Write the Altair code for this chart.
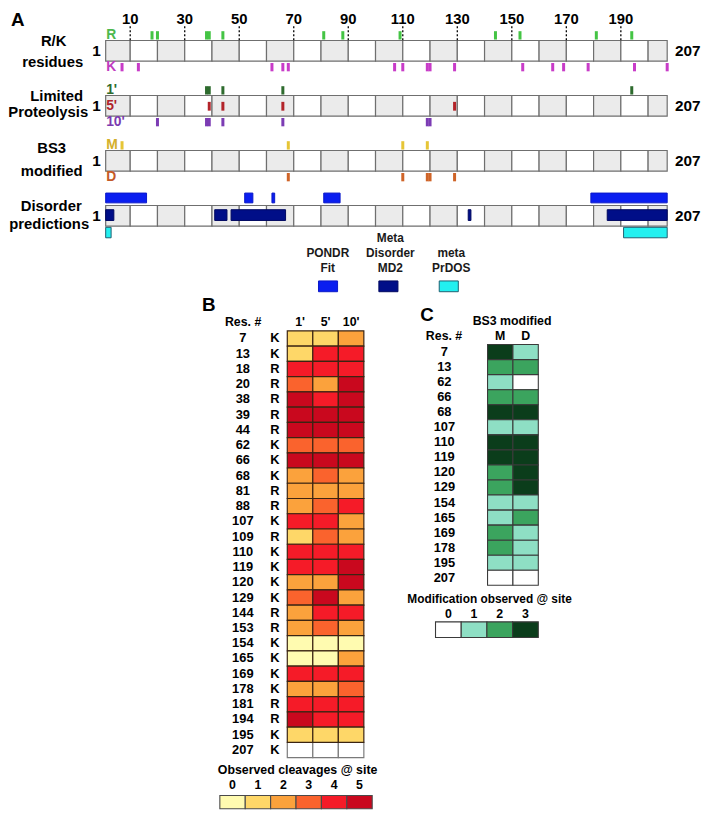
import altair as alt
import pandas as pd

# ---------------- data ----------------
SEQ_START, SEQ_END = 1, 207
TOP_TICKS = [10, 30, 50, 70, 90, 110, 130, 150, 170, 190]
CELL_EDGES = [1, 10, 20, 30, 40, 50, 60, 70, 80, 90, 100, 110, 120, 130, 140,
              150, 160, 170, 180, 190, 200, 207]
R_SITES = [18, 20, 38, 39, 44, 81, 88, 109, 144, 153, 181, 194]
K_SITES = [7, 13, 62, 66, 68, 107, 110, 119, 120, 129, 154, 165, 169, 178, 195, 207]

PONDR_FIT = [(1, 16), (52, 55), (62, 63), (81, 87), (179, 207)]
META_MD2 = [(1, 4), (41, 45.5), (47, 67), (134, 135), (185, 207)]
META_PRDOS = [(1, 3), (191, 207)]

TIMES = ["1'", "5'", "10'"]
RES_B = [7, 13, 18, 20, 38, 39, 44, 62, 66, 68, 81, 88, 107, 109, 110, 119, 120,
         129, 144, 153, 154, 165, 169, 178, 181, 194, 195, 207]
AA_B = ["K", "K", "R", "R", "R", "R", "R", "K", "K", "K", "R", "R", "K", "R", "K",
        "K", "K", "K", "R", "R", "K", "K", "K", "K", "R", "R", "K", "K"]
CLV_1 = [1, 1, 4, 3, 5, 5, 5, 3, 5, 2, 2, 2, 4, 1, 4, 4, 2, 3, 2, 2, 0, 0, 4, 2, 4, 5, 1, None]
CLV_5 = [1, 4, 4, 2, 4, 5, 5, 3, 5, 3, 2, 3, 4, 3, 4, 4, 2, 5, 4, 3, 0, 0, 4, 2, 4, 4, 1, None]
CLV_10 = [2, 4, 4, 5, 5, 5, 5, 3, 5, 2, 2, 4, 2, 2, 4, 5, 5, 2, 4, 2, 0, 2, 4, 3, 4, 4, 1, None]

BS3_COLS = ["M", "D"]
RES_C = [7, 13, 62, 66, 68, 107, 110, 119, 120, 129, 154, 165, 169, 178, 195, 207]
BS3_M = [3, 2, 1, 2, 3, 1, 3, 3, 2, 2, 1, 1, 2, 2, 1, 0]
BS3_D = [1, 2, 0, 2, 3, 1, 3, 3, 3, 3, 1, 2, 1, 1, 1, 0]

CLV_COLORS = ["#FFFBB0", "#FED768", "#FBA23C", "#FA632D", "#F51B28", "#C9081E"]
BS3_COLORS = ["#FFFFFF", "#8EDFC4", "#3BA45E", "#0B3D1B"]

# ---------------- layout helpers ----------------
FONT = "Liberation Sans"


def X(p):
    return round((p - 1.5) * 0.993, 2)


def Y(p):
    return round(p * 0.99 - 1.5, 2)


def label(text, x, y, size=12.5, color="#000000", align="center",
          baseline="alphabetic", weight="bold"):
    return alt.Chart(pd.DataFrame({"s": [text]})).mark_text(
        font=FONT, fontSize=size, fontWeight=weight, color=color,
        align=align, baseline=baseline
    ).encode(text="s:N", x=alt.value(X(x)), y=alt.value(Y(y)))


layers = []

# ================= Panel A =================
ROW = 56.2
BAR_H = 21.0
xA = alt.Scale(domain=[SEQ_START, SEQ_END], range=[X(101), X(673)], nice=False, zero=False)
yA = alt.Scale(domain=[0, 4], range=[Y(30), Y(30 + 4 * ROW)], nice=False, zero=False)

# segmented bars
cell_rows = []
for t in range(4):
    for i in range(len(CELL_EDGES) - 1):
        cell_rows.append(dict(x=CELL_EDGES[i], x2=CELL_EDGES[i + 1], y=t,
                              y2=t + BAR_H / ROW, shade="g" if i % 2 == 0 else "w"))
layers.append(alt.Chart(pd.DataFrame(cell_rows)).mark_rect(stroke="#6f6f6f", strokeWidth=1.2).encode(
    x=alt.X("x:Q", scale=xA, axis=None), x2="x2:Q",
    y=alt.Y("y:Q", scale=yA, axis=None), y2="y2:Q",
    color=alt.Color("shade:N", scale=alt.Scale(domain=["g", "w"], range=["#EBEBEB", "#FFFFFF"]), legend=None),
))

# derived site lists
lp1 = [r for r, v in zip(RES_B, CLV_1) if v == 5]
lp5 = [r for r, v in zip(RES_B, CLV_5) if v == 5]
lp10 = [r for r, v in zip(RES_B, CLV_10) if v == 5]
bm = [r for r, v in zip(RES_C, BS3_M) if v == 3]
bd = [r for r, v in zip(RES_C, BS3_D) if v == 3]

ABOVE, INSIDE, BELOW = (-9.5, -1.0), (6.5, 15.5), (23.0, 31.5)
LANES = [
    # name, track, lane, colour, label colour, sites
    ("R", 0, ABOVE, "#44C444", "#4DB84D", R_SITES),
    ("K", 0, BELOW, "#C83CC8", "#C03CC0", K_SITES),
    ("1'", 1, ABOVE, "#2E6B2E", "#2E6B2E", lp1),
    ("5'", 1, INSIDE, "#B3242A", "#B0232A", lp5),
    ("10'", 1, BELOW, "#7C3CB4", "#7B3BB0", lp10),
    ("M", 2, ABOVE, "#E6C536", "#D4B02A", bm),
    ("D", 2, BELOW, "#CF6428", "#C45A28", bd),
]
tick_rows, lab_rows = [], []
for name, t, (a, b), col, lcol, sites in LANES:
    for r in sites:
        tick_rows.append(dict(lane=name, x=r - 0.55, x2=r + 0.55, y=t + a / ROW, y2=t + b / ROW))
    off = {ABOVE: -5.4, INSIDE: 11.0, BELOW: 27.6}[(a, b)]
    lab_rows.append(dict(lane=name, y=t + off / ROW))

lane_names = [l[0] for l in LANES]
layers.append(alt.Chart(pd.DataFrame(tick_rows)).mark_rect().encode(
    x=alt.X("x:Q", scale=xA, axis=None), x2="x2:Q",
    y=alt.Y("y:Q", scale=yA, axis=None), y2="y2:Q",
    color=alt.Color("lane:N", scale=alt.Scale(domain=lane_names, range=[l[3] for l in LANES]), legend=None),
))
layers.append(alt.Chart(pd.DataFrame(lab_rows)).mark_text(
    font=FONT, fontSize=14, fontWeight="bold", align="left", baseline="middle"
).encode(
    text="lane:N", x=alt.value(X(101.5)),
    y=alt.Y("y:Q", scale=yA, axis=None),
    color=alt.Color("lane:N", scale=alt.Scale(domain=lane_names, range=[l[4] for l in LANES]), legend=None),
))

# disorder predictions
DIS = [("PONDR Fit", (-12.7, -2.7), PONDR_FIT), ("MD2", (4.3, 15.3), META_MD2),
       ("PrDOS", (22.3, 33.0), META_PRDOS)]
DIS_FILL = ["#0A1EF0", "#000E88", "#22F0F0"]
DIS_STROKE = ["#0A18C8", "#000860", "#1F5F70"]
dis_rows = []
for name, (a, b), segs in DIS:
    for s, e in segs:
        dis_rows.append(dict(p=name, x=s, x2=e, y=3 + a / ROW, y2=3 + b / ROW))
dis_names = [d[0] for d in DIS]
layers.append(alt.Chart(pd.DataFrame(dis_rows)).mark_rect(strokeWidth=1).encode(
    x=alt.X("x:Q", scale=xA, axis=None), x2="x2:Q",
    y=alt.Y("y:Q", scale=yA, axis=None), y2="y2:Q",
    color=alt.Color("p:N", scale=alt.Scale(domain=dis_names, range=DIS_FILL), legend=None),
    stroke=alt.Stroke("p:N", scale=alt.Scale(domain=dis_names, range=DIS_STROKE), legend=None),
))

# top ruler
rule_df = pd.DataFrame({"x": TOP_TICKS, "y": [-14.5 / ROW] * len(TOP_TICKS), "y2": [0.0] * len(TOP_TICKS)})
layers.append(alt.Chart(rule_df).mark_rule(color="#000000", strokeWidth=1.3, strokeDash=[2, 2]).encode(
    x=alt.X("x:Q", scale=xA, axis=None),
    y=alt.Y("y:Q", scale=yA, axis=None), y2="y2:Q",
))
layers.append(alt.Chart(pd.DataFrame({"x": TOP_TICKS})).mark_text(
    font=FONT, fontSize=15, fontWeight="bold", baseline="alphabetic"
).encode(x=alt.X("x:Q", scale=xA, axis=None), y=alt.value(Y(13.2)), text="x:N"))

# 1 / 207 labels
ends_df = pd.DataFrame({"y": [t + BAR_H / 2 / ROW for t in range(4)]})
layers.append(alt.Chart(ends_df).mark_text(font=FONT, fontSize=15.5, fontWeight="bold", baseline="middle",
                                           text=str(SEQ_START)).encode(
    x=alt.value(X(91.7)), y=alt.Y("y:Q", scale=yA, axis=None)))
layers.append(alt.Chart(ends_df).mark_text(font=FONT, fontSize=15.5, fontWeight="bold", baseline="middle",
                                           text=str(SEQ_END)).encode(
    x=alt.value(X(694)), y=alt.Y("y:Q", scale=yA, axis=None)))

# track titles
for txt, x, y in [("R/K", 48, 35.3), ("residues", 47, 56.7), ("Limited", 51, 92.3),
                  ("Proteolysis", 42.5, 108.3), ("BS3", 46, 145.3), ("modified", 46, 168.3),
                  ("Disorder", 45.5, 204.5), ("predictions", 43.5, 222.5)]:
    layers.append(label(txt, x, y, size=15))
layers.append(label("A", 4.5, 15.2, size=19, align="left"))

# disorder legend
for txt, x, y in [("PONDR", 327.3, 251.5), ("Fit", 327.3, 267), ("Meta", 391, 236),
                  ("Disorder", 391, 251.5), ("MD2", 391, 267), ("meta", 453, 251.5),
                  ("PrDOS", 453, 267)]:
    layers.append(label(txt, x, y, size=12, color="#1a1a1a"))
leg_df = pd.DataFrame({"p": dis_names, "i": [0, 1, 2], "k": ["s"] * 3})
leg_df["x"] = leg_df["i"] - 0.158
leg_df["x2"] = leg_df["i"] + 0.158
layers.append(alt.Chart(leg_df).mark_rect(strokeWidth=1).encode(
    x=alt.X("x:Q", scale=alt.Scale(domain=[0, 2], range=[X(327.5), X(450.5)], nice=False, zero=False), axis=None),
    x2="x2:Q",
    y=alt.Y("k:N", scale=alt.Scale(domain=["s"], range=[Y(275.7), Y(286.7)], paddingInner=0, paddingOuter=0), axis=None),
    color=alt.Color("p:N", scale=alt.Scale(domain=dis_names, range=DIS_FILL), legend=None),
    stroke=alt.Stroke("p:N", scale=alt.Scale(domain=dis_names, range=DIS_STROKE), legend=None),
))

# ================= Panel B =================
res_b = [str(r) for r in RES_B]
xB = alt.Scale(domain=TIMES, range=[X(286), X(364)], paddingInner=0, paddingOuter=0)
yB = alt.Scale(domain=res_b, range=[Y(326.7), Y(762.7)], paddingInner=0, paddingOuter=0)
colB = alt.Scale(domain=["0", "1", "2", "3", "4", "5"], range=CLV_COLORS)

rowsB, rowsNA = [], []
for i, r in enumerate(res_b):
    for t, vals in zip(TIMES, [CLV_1, CLV_5, CLV_10]):
        v = vals[i]
        if v is None:
            rowsNA.append(dict(res=r, time=t))
        else:
            rowsB.append(dict(res=r, time=t, val=str(v)))

layers.append(alt.Chart(pd.DataFrame(rowsNA)).mark_rect(fill="#FFFFFF", stroke="#7a7a7a", strokeWidth=1.2).encode(
    x=alt.X("time:N", scale=xB, axis=None), y=alt.Y("res:N", scale=yB, axis=None)))
layers.append(alt.Chart(pd.DataFrame(rowsB)).mark_rect(stroke="#3b2412", strokeWidth=1.2).encode(
    x=alt.X("time:N", scale=xB, axis=None), y=alt.Y("res:N", scale=yB, axis=None),
    color=alt.Color("val:N", scale=colB, legend=None)))

lblB = pd.DataFrame({"res": res_b, "aa": AA_B})
layers.append(alt.Chart(lblB).mark_text(font=FONT, fontSize=13, fontWeight="bold", baseline="middle").encode(
    text="res:N", x=alt.value(X(240.7)), y=alt.Y("res:N", scale=yB, axis=None)))
layers.append(alt.Chart(lblB).mark_text(font=FONT, fontSize=13, fontWeight="bold", baseline="middle").encode(
    text="aa:N", x=alt.value(X(273.3)), y=alt.Y("res:N", scale=yB, axis=None)))
layers.append(alt.Chart(pd.DataFrame({"t": TIMES})).mark_text(font=FONT, fontSize=12.5, fontWeight="bold",
                                                              baseline="middle").encode(
    text="t:N", x=alt.X("t:N", scale=xB, axis=None), y=alt.value(Y(317.3))))
layers.append(label("Res. #", 241, 317.3, baseline="middle"))
layers.append(label("B", 199, 306.5, size=19, align="left"))

# legend B
lvB = ["0", "1", "2", "3", "4", "5"]
xLB = alt.Scale(domain=lvB, range=[X(217.3), X(372.5)], paddingInner=0, paddingOuter=0)
legB = pd.DataFrame({"v": lvB, "k": ["s"] * 6})
layers.append(alt.Chart(legB).mark_rect(stroke="#4a4a4a", strokeWidth=1.1).encode(
    x=alt.X("v:N", scale=xLB, axis=None),
    y=alt.Y("k:N", scale=alt.Scale(domain=["s"], range=[Y(801.5), Y(815)], paddingInner=0, paddingOuter=0), axis=None),
    color=alt.Color("v:N", scale=colB, legend=None)))
layers.append(alt.Chart(legB).mark_text(font=FONT, fontSize=12.5, fontWeight="bold", baseline="middle").encode(
    text="v:N", x=alt.X("v:N", scale=xLB, axis=None), y=alt.value(Y(790.5))))
layers.append(label("Observed cleavages @ site", 296.5, 775.5, size=12.5, baseline="middle"))

# ================= Panel C =================
res_c = [str(r) for r in RES_C]
xC = alt.Scale(domain=BS3_COLS, range=[X(490), X(541.7)], paddingInner=0, paddingOuter=0)
yC = alt.Scale(domain=res_c, range=[Y(340.7), Y(586.7)], paddingInner=0, paddingOuter=0)
colC = alt.Scale(domain=["0", "1", "2", "3"], range=BS3_COLORS)
rowsC = []
for i, r in enumerate(res_c):
    rowsC.append(dict(res=r, col="M", val=str(BS3_M[i])))
    rowsC.append(dict(res=r, col="D", val=str(BS3_D[i])))
layers.append(alt.Chart(pd.DataFrame(rowsC)).mark_rect(stroke="#3a3a3a", strokeWidth=1.1).encode(
    x=alt.X("col:N", scale=xC, axis=None), y=alt.Y("res:N", scale=yC, axis=None),
    color=alt.Color("val:N", scale=colC, legend=None)))
layers.append(alt.Chart(pd.DataFrame({"res": res_c})).mark_text(font=FONT, fontSize=13, fontWeight="bold",
                                                                baseline="middle").encode(
    text="res:N", x=alt.value(X(446)), y=alt.Y("res:N", scale=yC, axis=None)))
layers.append(alt.Chart(pd.DataFrame({"c": BS3_COLS})).mark_text(font=FONT, fontSize=12.5, fontWeight="bold",
                                                                 baseline="middle").encode(
    text="c:N", x=alt.X("c:N", scale=xC, axis=None), y=alt.value(Y(332.3))))
layers.append(label("Res. #", 445.7, 332.3, baseline="middle"))
layers.append(label("BS3 modified", 515, 316.7, baseline="middle"))
layers.append(label("C", 428.3, 316.5, size=19))

# legend C
lvC = ["0", "1", "2", "3"]
xLC = alt.Scale(domain=lvC, range=[X(437), X(541.7)], paddingInner=0, paddingOuter=0)
legC = pd.DataFrame({"v": lvC, "k": ["s"] * 4})
layers.append(alt.Chart(legC).mark_rect(stroke="#3a3a3a", strokeWidth=1.1).encode(
    x=alt.X("v:N", scale=xLC, axis=None),
    y=alt.Y("k:N", scale=alt.Scale(domain=["s"], range=[Y(624), Y(640)], paddingInner=0, paddingOuter=0), axis=None),
    color=alt.Color("v:N", scale=colC, legend=None)))
layers.append(alt.Chart(legC).mark_text(font=FONT, fontSize=12.5, fontWeight="bold", baseline="middle").encode(
    text="v:N", x=alt.X("v:N", scale=xLC, axis=None), y=alt.value(Y(616))))
layers.append(label("Modification observed @ site", 492, 600.5, size=12, baseline="middle"))

chart = alt.layer(*layers).resolve_scale(
    x="independent", y="independent", color="independent", stroke="independent"
).properties(
    width=701, height=808, autosize=alt.AutoSizeParams(type="none"), padding=0, background="white"
).configure_view(stroke=None)

chart.save("out.html", embed_options={"renderer": "svg", "actions": False})
